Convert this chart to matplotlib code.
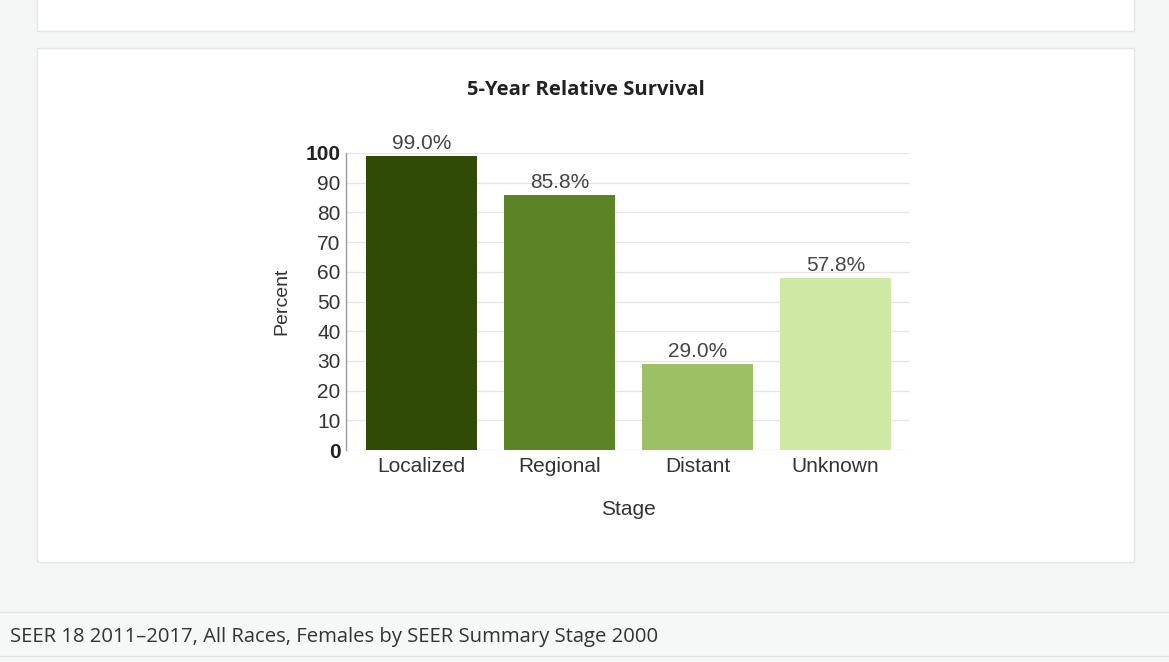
import matplotlib
matplotlib.use("Agg")
import matplotlib.pyplot as plt
from matplotlib.patches import Rectangle

# 5-year relative survival by stage
stages = ["Localized", "Regional", "Distant", "Unknown"]
survival = [99.0, 85.8, 29.0, 57.8]
bar_colors = ["#2f4b05", "#5c8425", "#9cc063", "#cfe8a4"]
y_ticks = [0, 10, 20, 30, 40, 50, 60, 70, 80, 90, 100]

W, H = 1169, 662
page_bg = "#f4f5f5"
card_edge = "#e4e6e6"

plt.rcParams["font.family"] = ["Liberation Sans", "DejaVu Sans"]

fig = plt.figure(figsize=(W / 100, H / 100), dpi=100)
fig.patch.set_facecolor(page_bg)


def px_box(x0, y0, x1, y1, **kw):
    # rectangle in pixel coords measured from the top-left corner
    fig.add_artist(Rectangle((x0 / W, 1 - y1 / H), (x1 - x0) / W, (y1 - y0) / H,
                             transform=fig.transFigure, zorder=-10, **kw))


# page cards
px_box(37, -10, 1134, 31, facecolor="white", edgecolor=card_edge, lw=1)
px_box(37, 48, 1134, 562, facecolor="white", edgecolor=card_edge, lw=1)
# footer band
px_box(-5, 612, W + 5, 656, facecolor="#f6f7f7", edgecolor="#e2e4e4", lw=1)

fig.text(10 / W, 1 - 637 / H, "SEER 18 2011\u20132017, All Races, Females by SEER Summary Stage 2000",
         family=["Open Sans", "DejaVu Sans"], fontsize=14.6, color="#333333",
         ha="left", va="center")

fig.text(586 / W, 1 - 90 / H, "5-Year Relative Survival", family=["Open Sans", "DejaVu Sans"],
         fontsize=14.6, fontweight="bold", color="#222222", ha="center", va="center")

ax = fig.add_axes([346 / W, 1 - 450 / H, (910 - 346) / W, (450 - 153) / H])
ax.set_facecolor("none")

x = range(len(stages))
bars = ax.bar(x, survival, width=0.8, color=bar_colors, zorder=3)
for b, v in zip(bars, survival):
    ax.text(b.get_x() + b.get_width() / 2, v + 1.0, f"{v:.1f}%", ha="center", va="bottom",
            fontsize=15, color="#444444", clip_on=False)

ax.set_xlim(-0.547, 3.54)
ax.set_ylim(0, 100)
ax.set_yticks(y_ticks)
ax.set_yticklabels([str(t) for t in y_ticks], fontsize=15, color="#333333")
for lbl in ax.get_yticklabels():
    if lbl.get_text() in ("0", "100"):
        lbl.set_fontweight("bold")
        lbl.set_color("#222222")
ax.set_xticks(list(x))
ax.set_xticklabels(stages, fontsize=15, color="#333333")
ax.tick_params(axis="both", length=0, pad=4)
ax.tick_params(axis="x", pad=5)

ax.grid(axis="y", color="#e6e6e6", lw=1, zorder=0)
for side in ("top", "right", "bottom"):
    ax.spines[side].set_visible(False)
ax.spines["left"].set_color("#9a9a9a")
ax.spines["left"].set_linewidth(1)

ax.set_ylabel("Percent", fontsize=14, color="#333333", labelpad=11)
ax.set_xlabel("Stage", fontsize=15, color="#333333", labelpad=17)

fig.savefig("out.png", dpi=100, facecolor=page_bg)
